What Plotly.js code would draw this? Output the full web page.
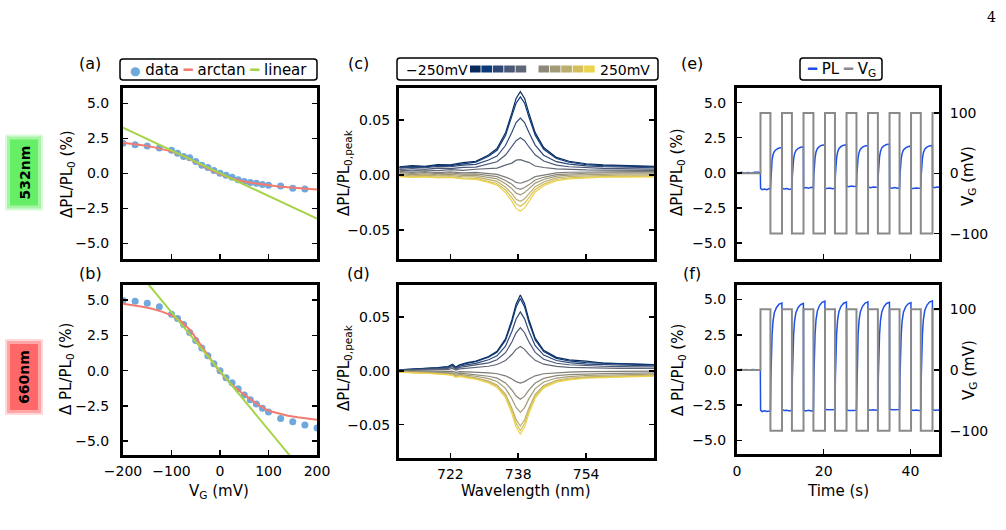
<!DOCTYPE html>
<html><head><meta charset="utf-8">
<script src="https://cdn.plot.ly/plotly-3.0.1.min.js"></script>
<style>html,body{margin:0;padding:0;background:#fff;}#chart{width:1006px;height:530px;}</style>
</head><body><div id="chart"></div>
<script>
// ---------- data: panels (a),(b) ----------
const vgA = [-200,-175,-150,-125,-100,-87.5,-75,-62.5,-50,-37.5,-25,-12.5,0,12.5,25,37.5,50,62.5,75,87.5,100,125,150,175];
const plA = [2.15,2.06,1.96,1.82,1.65,1.45,1.22,1.12,0.86,0.58,0.42,0.22,0.02,-0.13,-0.27,-0.45,-0.57,-0.65,-0.70,-0.78,-0.83,-0.90,-1.05,-1.10];
const vgB = [-200,-175,-150,-125,-100,-87.5,-75,-62.5,-50,-37.5,-25,-12.5,0,12.5,25,37.5,50,62.5,75,87.5,100,125,150,175,200];
const plB = [4.98,4.91,4.77,4.53,4.00,3.69,3.27,2.71,2.13,1.61,1.05,0.49,0.00,-0.51,-0.86,-1.29,-1.73,-2.06,-2.36,-2.66,-2.94,-3.39,-3.62,-3.86,-4.07];
const fitV = [-200,-180,-160,-140,-120,-100,-80,-60,-40,-20,0,20,40,60,80,100,120,140,160,180,200];
const arctanA = [2.20,2.12,2.02,1.90,1.76,1.58,1.31,1.00,0.64,0.28,-0.04,-0.30,-0.50,-0.64,-0.75,-0.84,-0.92,-0.98,-1.04,-1.09,-1.14];
const arctanB = [4.74,4.65,4.53,4.38,4.18,3.92,3.50,2.82,1.88,0.85,-0.10,-0.85,-1.45,-1.95,-2.45,-2.85,-3.05,-3.20,-3.31,-3.40,-3.48];
const linV = [-200, 200];
const linearA = [3.27, -3.22];
const linearB = [8.30, -8.36];

// ---------- data: panel (c) spectra, 532 nm ----------
const wlC = [710,713,716,719,722,725,728,731,733,735,736.5,737.5,738.5,739.5,740.5,742,744,747,750,754,758,762,766,770];
const c_m250 = [0.0075,0.0085,0.0078,0.0095,0.0092,0.0112,0.0125,0.0182,0.0240,0.0383,0.0564,0.0696,0.0757,0.0696,0.0564,0.0385,0.0250,0.0160,0.0125,0.0102,0.0092,0.0085,0.0083,0.0078];
const c_m200 = [0.0068,0.0079,0.0074,0.0088,0.0086,0.0104,0.0117,0.0170,0.0225,0.0359,0.0529,0.0653,0.0710,0.0653,0.0529,0.0362,0.0233,0.0150,0.0116,0.0095,0.0086,0.0080,0.0078,0.0073];
const c_m150 = [0.0062,0.0071,0.0066,0.0078,0.0075,0.0089,0.0096,0.0136,0.0172,0.0268,0.0389,0.0477,0.0518,0.0477,0.0389,0.0272,0.0180,0.0121,0.0098,0.0083,0.0076,0.0072,0.0070,0.0066];
const c_m100 = [0.0050,0.0058,0.0052,0.0063,0.0058,0.0070,0.0072,0.0099,0.0120,0.0181,0.0257,0.0312,0.0338,0.0312,0.0257,0.0184,0.0127,0.0090,0.0075,0.0066,0.0061,0.0058,0.0057,0.0054];
const c_m50  = [0.0045,0.0038,0.0046,0.0040,0.0048,0.0042,0.0052,0.0058,0.0062,0.0090,0.0108,0.0135,0.0140,0.0126,0.0115,0.0082,0.0068,0.0055,0.0050,0.0046,0.0045,0.0044,0.0043,0.0042];
const c_0    = [0.0033,0.0024,0.0031,0.0022,0.0029,0.0020,0.0024,0.0010,0.0006,-0.0020,-0.0043,-0.0068,-0.0075,-0.0063,-0.0048,-0.0015,0.0000,0.0020,0.0025,0.0028,0.0030,0.0030,0.0031,0.0030];
const c_p50  = [0.0022,0.0014,0.0021,0.0012,0.0018,0.0008,0.0010,-0.0006,-0.0015,-0.0050,-0.0085,-0.0119,-0.0130,-0.0114,-0.0090,-0.0045,-0.0021,0.0004,0.0012,0.0016,0.0019,0.0019,0.0020,0.0019];
const c_p100 = [0.0011,0.0004,0.0010,0.0002,0.0006,-0.0003,-0.0004,-0.0022,-0.0035,-0.0079,-0.0124,-0.0165,-0.0180,-0.0160,-0.0129,-0.0074,-0.0041,-0.0011,-0.0001,0.0004,0.0008,0.0009,0.0009,0.0009];
const c_p150 = [0.0000,-0.0007,-0.0002,-0.0009,-0.0006,-0.0016,-0.0018,-0.0040,-0.0058,-0.0111,-0.0170,-0.0221,-0.0240,-0.0216,-0.0175,-0.0106,-0.0064,-0.0027,-0.0014,-0.0008,-0.0003,-0.0002,-0.0001,-0.0001];
const c_p200 = [-0.0010,-0.0017,-0.0012,-0.0020,-0.0017,-0.0028,-0.0031,-0.0055,-0.0077,-0.0137,-0.0205,-0.0263,-0.0285,-0.0258,-0.0210,-0.0132,-0.0083,-0.0041,-0.0027,-0.0019,-0.0014,-0.0013,-0.0012,-0.0012];
const c_p250 = [-0.0016,-0.0023,-0.0018,-0.0026,-0.0023,-0.0035,-0.0040,-0.0067,-0.0092,-0.0160,-0.0238,-0.0304,-0.0330,-0.0299,-0.0243,-0.0155,-0.0098,-0.0051,-0.0035,-0.0026,-0.0020,-0.0019,-0.0017,-0.0017];

// ---------- data: panel (d) spectra, 660 nm ----------
const wlD = [710,713,716,719,721.5,722.5,723.3,724.2,726,728,731,733,735,736.5,737.5,738.5,739.5,740.5,742,744,747,750,754,758,762,766,770];
const d_m250 = [0.0010,0.0016,0.0022,0.0031,0.0041,0.0062,0.0036,0.0058,0.0077,0.0092,0.0135,0.0183,0.0299,0.0475,0.0624,0.0706,0.0626,0.0479,0.0305,0.0192,0.0127,0.0103,0.0091,0.0074,0.0068,0.0064,0.0060];
const d_m200 = [0.0010,0.0015,0.0020,0.0029,0.0039,0.0059,0.0032,0.0055,0.0072,0.0086,0.0127,0.0173,0.0284,0.0453,0.0595,0.0675,0.0596,0.0455,0.0288,0.0180,0.0117,0.0093,0.0077,0.0073,0.0064,0.0060,0.0056];
const d_m150 = [0.0008,0.0012,0.0017,0.0024,0.0032,0.0051,0.0024,0.0045,0.0059,0.0071,0.0104,0.0141,0.0231,0.0368,0.0484,0.0549,0.0485,0.0371,0.0235,0.0148,0.0097,0.0078,0.0064,0.0059,0.0054,0.0051,0.0048];
const d_m100 = [0.0006,0.0009,0.0012,0.0018,0.0024,0.0039,0.0017,0.0033,0.0044,0.0052,0.0076,0.0104,0.0170,0.0270,0.0355,0.0403,0.0356,0.0272,0.0173,0.0109,0.0072,0.0058,0.0048,0.0044,0.0041,0.0039,0.0037];
const d_m50  = [0.0004,0.0006,0.0008,0.0011,0.0014,0.0024,0.0009,0.0020,0.0026,0.0030,0.0044,0.0060,0.0097,0.0153,0.0201,0.0227,0.0201,0.0154,0.0099,0.0063,0.0042,0.0034,0.0029,0.0027,0.0025,0.0024,0.0023];
const d_0    = [0.0000,-0.0001,-0.0001,-0.0002,-0.0004,-0.0004,-0.0013,-0.0006,-0.0009,-0.0011,-0.0018,-0.0026,-0.0045,-0.0074,-0.0099,-0.0112,-0.0099,-0.0074,-0.0045,-0.0026,-0.0015,-0.0010,-0.0007,-0.0005,-0.0004,-0.0002,-0.0001];
const d_p50  = [-0.0004,-0.0006,-0.0008,-0.0011,-0.0015,-0.0017,-0.0030,-0.0021,-0.0027,-0.0033,-0.0049,-0.0067,-0.0111,-0.0177,-0.0233,-0.0264,-0.0234,-0.0178,-0.0112,-0.0069,-0.0044,-0.0034,-0.0027,-0.0024,-0.0022,-0.0020,-0.0018];
const d_p100 = [-0.0006,-0.0009,-0.0012,-0.0016,-0.0022,-0.0025,-0.0042,-0.0031,-0.0041,-0.0049,-0.0072,-0.0098,-0.0162,-0.0259,-0.0340,-0.0385,-0.0341,-0.0260,-0.0164,-0.0102,-0.0066,-0.0052,-0.0042,-0.0038,-0.0034,-0.0032,-0.0029];
const d_p150 = [-0.0008,-0.0012,-0.0015,-0.0022,-0.0029,-0.0033,-0.0051,-0.0041,-0.0054,-0.0065,-0.0095,-0.0131,-0.0215,-0.0344,-0.0453,-0.0512,-0.0454,-0.0346,-0.0218,-0.0135,-0.0087,-0.0068,-0.0055,-0.0049,-0.0045,-0.0041,-0.0038];
const d_p200 = [-0.0010,-0.0014,-0.0018,-0.0025,-0.0033,-0.0037,-0.0055,-0.0046,-0.0060,-0.0071,-0.0104,-0.0142,-0.0233,-0.0371,-0.0488,-0.0552,-0.0489,-0.0373,-0.0236,-0.0147,-0.0096,-0.0076,-0.0062,-0.0055,-0.0050,-0.0047,-0.0043];
const d_p250 = [-0.0012,-0.0016,-0.0021,-0.0028,-0.0036,-0.0041,-0.0059,-0.0050,-0.0065,-0.0077,-0.0112,-0.0153,-0.0249,-0.0396,-0.0520,-0.0588,-0.0522,-0.0398,-0.0253,-0.0158,-0.0104,-0.0083,-0.0068,-0.0061,-0.0056,-0.0052,-0.0049];

// ---------- data: panels (e),(f) time traces ----------
const tPL = [0,0.5,1,1.5,2,2.5,3,3.5,4,4.5,5,5.38,
 5.44,5.8,6.3,6.9,7.4,7.71,
 7.81,7.91,8.09,8.31,8.61,9.11,9.71,10.36,
 10.40,10.9,11.5,12.1,12.67,
 12.77,12.87,13.05,13.27,13.57,14.07,14.67,15.32,
 15.36,15.9,16.5,17.1,17.63,
 17.73,17.83,18.01,18.23,18.53,19.03,19.63,20.28,
 20.32,20.8,21.4,22.0,22.60,
 22.70,22.80,22.98,23.20,23.50,24.00,24.60,25.25,
 25.29,25.8,26.4,27.0,27.56,
 27.66,27.76,27.94,28.16,28.46,28.96,29.56,30.21,
 30.25,30.8,31.4,32.0,32.50,
 32.60,32.70,32.88,33.10,33.40,33.90,34.50,35.17,
 35.21,35.8,36.4,37.0,37.50,
 37.60,37.70,37.88,38.10,38.40,38.90,39.50,40.13,
 40.17,40.7,41.3,41.9,42.40,
 42.50,42.60,42.78,43.00,43.30,43.80,44.40,45.08,
 45.12,45.6,46.1,46.6];
const plE = [0.02,-0.03,0.04,0.0,-0.02,0.03,0.01,-0.03,0.05,0.02,0.04,0.03,
 -1.1,-1.2,-1.15,-1.2,-1.12,-1.15,
 -0.27,0.33,0.92,1.30,1.53,1.68,1.77,1.80,
 -1.1,-1.15,-1.12,-1.18,-1.12,
 -0.23,0.37,0.96,1.35,1.58,1.73,1.82,1.85,
 -1.1,-1.05,-1.1,-1.02,-1.06,
 -0.14,0.47,1.08,1.48,1.72,1.88,1.97,2.00,
 -1.1,-1.12,-1.08,-1.13,-1.1,
 -0.17,0.45,1.07,1.47,1.72,1.88,1.97,2.00,
 -0.95,-0.98,-0.93,-0.97,-0.95,
 -0.08,0.50,1.08,1.46,1.69,1.83,1.92,1.95,
 -1.0,-1.05,-1.0,-1.03,-1.0,
 -0.09,0.53,1.14,1.53,1.78,1.93,2.02,2.05,
 -1.05,-1.1,-1.05,-1.1,-1.08,
 -0.19,0.41,1.01,1.39,1.63,1.78,1.87,1.90,
 -1.1,-1.12,-1.08,-1.1,-1.07,
 -0.16,0.44,1.04,1.44,1.68,1.83,1.92,1.95,
 -1.0,-1.05,-1.0,-1.02];
const plF = [0.02,-0.03,0.04,-0.02,0.03,0.0,-0.02,0.03,0.01,-0.03,0.0,0.02,
 -2.85,-2.95,-2.9,-2.95,-2.92,-2.9,
 -0.61,0.93,2.46,3.45,4.06,4.44,4.67,4.75,
 -2.8,-2.88,-2.85,-2.9,-2.85,
 -0.58,0.94,2.45,3.43,4.04,4.42,4.64,4.72,
 -2.85,-2.9,-2.86,-2.9,-2.88,
 -0.55,1.00,2.55,3.56,4.18,4.57,4.80,4.88,
 -2.78,-2.82,-2.8,-2.83,-2.8,
 -0.51,1.01,2.53,3.52,4.13,4.52,4.74,4.82,
 -2.82,-2.88,-2.85,-2.87,-2.85,
 -0.55,0.99,2.53,3.52,4.14,4.52,4.75,4.83,
 -2.8,-2.85,-2.82,-2.86,-2.82,
 -0.53,0.99,2.51,3.51,4.11,4.50,4.72,4.80,
 -2.78,-2.82,-2.8,-2.83,-2.8,
 -0.53,0.99,2.51,3.49,4.10,4.48,4.70,4.78,
 -2.82,-2.87,-2.84,-2.88,-2.85,
 -0.53,1.03,2.58,3.58,4.20,4.59,4.82,4.90,
 -2.8,-2.85,-2.82,-2.84];
const tV = [0,5.42,5.42,7.71,7.71,10.38,10.38,12.67,12.67,15.34,15.34,17.63,17.63,20.30,20.30,22.60,22.60,25.27,25.27,27.56,27.56,30.23,30.23,32.50,32.50,35.19,35.19,37.50,37.50,40.15,40.15,42.40,42.40,45.10,45.10,47.0];
const vG = [0,0,100,100,-100,-100,100,100,-100,-100,100,100,-100,-100,100,100,-100,-100,100,100,-100,-100,100,100,-100,-100,100,100,-100,-100,100,100,-100,-100,100,100];

// ---------- tick labels ----------
const plTickVals = [-5,-2.5,0,2.5,5];
const plTickText = ['\u22125.0','\u22122.5','0.0','2.5','5.0'];
const vgTickVals = [-200,-100,0,100,200];
const vgTickText = ['\u2212200','\u2212100','0','100','200'];
const specTickVals = [-0.05,0,0.05];
const specTickText = ['\u22120.05','0.00','0.05'];
const wlTickVals = [722,738,754];
const timeTickVals = [0,20,40];
const vRightVals = [-100,0,100];
const vRightText = ['\u2212100','0','100'];

// ---------- styles ----------
const specColors = ['#0b2a5c','#0a3a7a','#2e4774','#4a5878','#5f6676','#7b7b78','#8e8a7b','#a39b78','#bbad6c','#d3c05d','#ecd34c'];
const COL = {data:'#6fa8dc', arctan:'#f47b6f', linear:'#a5d44a', pl:'#1e50e6', vg:'#8a8a8a'};
const FONT = 'DejaVu Sans';
const W = 1006, H = 530;
const dx = (a,b) => [a/W, b/W];
const dy = (top,bot) => [1-bot/H, 1-top/H];

const specC = [c_m250,c_m200,c_m150,c_m100,c_m50,c_0,c_p50,c_p100,c_p150,c_p200,c_p250];
const specD = [d_m250,d_m200,d_m150,d_m100,d_m50,d_0,d_p50,d_p100,d_p150,d_p200,d_p250];

const traces = [];
traces.push({x:vgA, y:plA, mode:'markers', marker:{size:7,color:COL.data}, xaxis:'x', yaxis:'y'});
traces.push({x:fitV, y:arctanA, mode:'lines', line:{color:COL.arctan,width:2}, xaxis:'x', yaxis:'y'});
traces.push({x:linV, y:linearA, mode:'lines', line:{color:COL.linear,width:2}, xaxis:'x', yaxis:'y'});
traces.push({x:vgB, y:plB, mode:'markers', marker:{size:7,color:COL.data}, xaxis:'x2', yaxis:'y2'});
traces.push({x:fitV, y:arctanB, mode:'lines', line:{color:COL.arctan,width:2}, xaxis:'x2', yaxis:'y2'});
traces.push({x:linV, y:linearB, mode:'lines', line:{color:COL.linear,width:2}, xaxis:'x2', yaxis:'y2'});
specC.forEach((s,i)=>traces.push({x:wlC, y:s, mode:'lines', line:{color:specColors[i],width:1.2}, xaxis:'x3', yaxis:'y3'}));
specD.forEach((s,i)=>traces.push({x:wlD, y:s, mode:'lines', line:{color:specColors[i],width:1.2}, xaxis:'x4', yaxis:'y4'}));
traces.push({x:tPL, y:plE, mode:'lines', line:{color:COL.pl,width:1.5}, xaxis:'x5', yaxis:'y5'});
traces.push({x:tV, y:vG, mode:'lines', line:{color:COL.vg,width:2}, xaxis:'x5', yaxis:'y6'});
traces.push({x:tPL, y:plF, mode:'lines', line:{color:COL.pl,width:1.5}, xaxis:'x6', yaxis:'y7'});
traces.push({x:tV, y:vG, mode:'lines', line:{color:COL.vg,width:2}, xaxis:'x6', yaxis:'y8'});

function ax(extra){
  return Object.assign({showline:true, linecolor:'black', linewidth:3, ticks:'inside', ticklen:5, tickwidth:1.5,
    tickcolor:'black', showgrid:false, zeroline:false, automargin:false, fixedrange:true,
    tickfont:{family:FONT,size:14,color:'black'}}, extra);
}

const layout = {
  width:W, height:H, margin:{l:0,r:0,t:0,b:0}, paper_bgcolor:'white', plot_bgcolor:'white',
  showlegend:false, font:{family:FONT,color:'black'},
  xaxis: ax({domain:dx(123,317), anchor:'y', range:[-200,200], tickvals:vgTickVals, showticklabels:false, mirror:true}),
  yaxis: ax({domain:dy(88,259), anchor:'x', range:[-6.1,6.1], tickvals:plTickVals, ticktext:plTickText, mirror:'ticks', ticklabelstandoff:8}),
  xaxis2: ax({domain:dx(123,317), anchor:'y2', range:[-200,200], tickvals:vgTickVals, ticktext:vgTickText, mirror:true, ticklabelstandoff:1}),
  yaxis2: ax({domain:dy(285,455), anchor:'x2', range:[-5.98,6.07], tickvals:plTickVals, ticktext:plTickText, mirror:'ticks', ticklabelstandoff:8}),
  xaxis3: ax({domain:dx(399,654), anchor:'y3', range:[709.9,770], tickvals:wlTickVals, showticklabels:false, mirror:true}),
  yaxis3: ax({domain:dy(88,259), anchor:'x3', range:[-0.0764,0.0791], tickvals:specTickVals, ticktext:specTickText, mirror:'ticks', ticklabelstandoff:3}),
  xaxis4: ax({domain:dx(399,654), anchor:'y4', range:[709.9,770], tickvals:wlTickVals, mirror:true, ticklabelstandoff:1}),
  yaxis4: ax({domain:dy(285,458), anchor:'x4', range:[-0.081,0.080], tickvals:specTickVals, ticktext:specTickText, mirror:'ticks', ticklabelstandoff:3}),
  xaxis5: ax({domain:dx(737,939), anchor:'y5', range:[0,46.6], tickvals:timeTickVals, showticklabels:false, mirror:true}),
  yaxis5: ax({domain:dy(88,259), anchor:'x5', range:[-6.13,6.04], tickvals:plTickVals, ticktext:plTickText, mirror:true, ticklabelstandoff:5}),
  yaxis6: ax({overlaying:'y5', anchor:'x5', side:'right', range:[-142.1,141.5], tickvals:vRightVals, ticktext:vRightText, ticklabelstandoff:5}),
  xaxis6: ax({domain:dx(737,939), anchor:'y7', range:[0,46.6], tickvals:timeTickVals, mirror:true, ticklabelstandoff:2}),
  yaxis7: ax({domain:dy(285,454), anchor:'x6', range:[-5.96,6.03], tickvals:plTickVals, ticktext:plTickText, mirror:true, ticklabelstandoff:5}),
  yaxis8: ax({overlaying:'y7', anchor:'x6', side:'right', range:[-138.2,139.8], tickvals:vRightVals, ticktext:vRightText, ticklabelstandoff:5}),
  shapes:[], annotations:[]
};

const X = v => v/W, Y = v => 1 - v/H;
function rrect(x0,y0,x1,y1,r){
  return `M ${X(x0+r)},${Y(y0)} L ${X(x1-r)},${Y(y0)} Q ${X(x1)},${Y(y0)} ${X(x1)},${Y(y0+r)} L ${X(x1)},${Y(y1-r)} Q ${X(x1)},${Y(y1)} ${X(x1-r)},${Y(y1)} L ${X(x0+r)},${Y(y1)} Q ${X(x0)},${Y(y1)} ${X(x0)},${Y(y1-r)} L ${X(x0)},${Y(y0+r)} Q ${X(x0)},${Y(y0)} ${X(x0+r)},${Y(y0)} Z`;
}
function box(x0,y0,x1,y1){
  layout.shapes.push({type:'path', xref:'paper', yref:'paper', path:rrect(x0,y0,x1,y1,3), line:{color:'black',width:1.5}, fillcolor:'white', layer:'above'});
}
function ann(text,px,py,o){
  layout.annotations.push(Object.assign({text, x:X(px), y:Y(py), xref:'paper', yref:'paper', showarrow:false,
    xanchor:'center', yanchor:'middle', font:{family:FONT,size:15,color:'black'}}, o||{}));
}

// legends
box(120,59,317,80);
ann(`<span style="color:${COL.data};font-size:12px">\u25CF</span> data <span style="color:${COL.arctan}">\u2501</span> arctan <span style="color:${COL.linear}">\u2501</span> linear`, 218.5, 70);
box(397,58,658,80);
ann('\u2212250mV', 437, 69.5, {font:{family:FONT,size:14,color:'black'}});
ann('250mV', 625, 69.5, {font:{family:FONT,size:14,color:'black'}});
specColors.forEach((c,i)=>{
  if (i===5) return;
  const j = i<5 ? i : i-1;
  const x0 = (i<5 ? 470 : 538.5) + (j%5)*11.4;
  layout.shapes.push({type:'rect', xref:'paper', yref:'paper', x0:X(x0), x1:X(x0+10.6), y0:Y(72.5), y1:Y(65.5), fillcolor:c, line:{width:0}, layer:'above'});
});
box(800,58,882,80);
ann(`<span style="color:${COL.pl}">\u2501</span> PL <span style="color:${COL.vg}">\u2501</span> V<sub>G</sub>`, 841, 69.5);

// panel letters
[['(a)',90,64],['(b)',90,273],['(c)',358,64],['(d)',358,273],['(e)',692,64],['(f)',692,273]].forEach(p=>ann(p[0],p[1],p[2],{font:{family:FONT,size:16,color:'black'}}));

// axis titles
const plTitle = '\u0394PL/PL<sub>0</sub> (%)';
const plTitle2 = '\u0394 PL/PL<sub>0</sub> (%)';
const spTitle = '\u0394PL/PL<sub>0,peak</sub>';
const vTitle = 'V<sub>G</sub> (mV)';
ann(plTitle, 68, 174, {textangle:-90});
ann(plTitle2, 66, 369, {textangle:-90});
ann(spTitle, 344, 173, {textangle:-90});
ann(spTitle, 344, 368, {textangle:-90});
ann(plTitle, 678, 172, {textangle:-90});
ann(plTitle2, 678, 370, {textangle:-90});
ann(vTitle, 969, 176, {textangle:-90});
ann(vTitle, 969, 370, {textangle:-90});
ann(vTitle, 219, 491);
ann('Wavelength (nm)', 526, 491);
ann('Time (s)', 838, 491);

// side labels with glow
function glow(cy, col){
  [[5,0.25],[3,0.45],[0,1]].forEach(g=>{
    layout.shapes.push({type:'rect', xref:'paper', yref:'paper', x0:X(10-g[0]), x1:X(38+g[0]), y0:Y(cy+33+g[0]), y1:Y(cy-33-g[0]),
      fillcolor:col, opacity:g[1], line:{width:0}, layer:'below'});
  });
}
glow(172.5,'#66ee66');
glow(377,'#ff6868');
ann('<b>532nm</b>', 24, 172.5, {textangle:-90, font:{family:FONT,size:14,color:'black'}});
ann('<b>660nm</b>', 24, 377, {textangle:-90, font:{family:FONT,size:14,color:'black'}});
ann('4', 991, 17, {font:{family:'DejaVu Serif',size:14,color:'black'}});

Plotly.newPlot('chart', traces, layout, {staticPlot:true, displayModeBar:false});
</script></body></html>
